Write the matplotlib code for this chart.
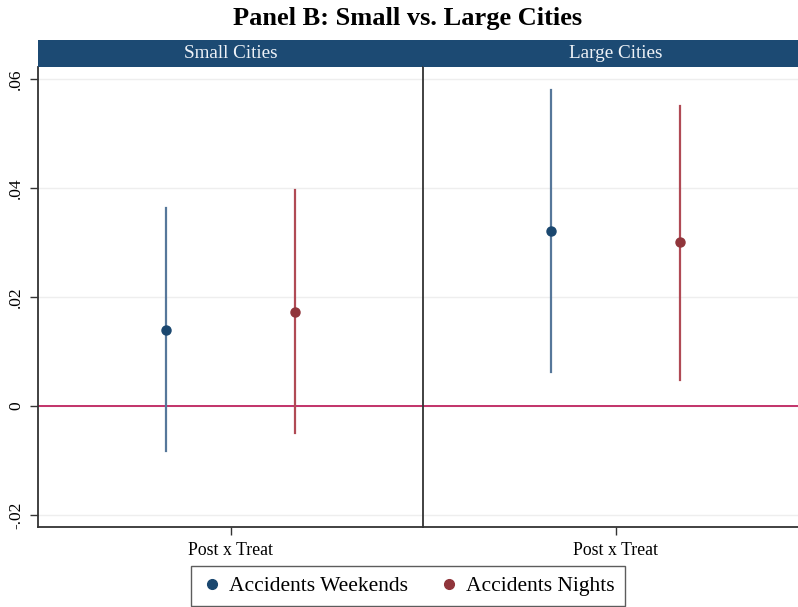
import matplotlib
matplotlib.use("Agg")
import matplotlib.pyplot as plt
from matplotlib.lines import Line2D

# Estimates by city size
panels = ["Small Cities", "Large Cities"]
series = ["Accidents Weekends", "Accidents Nights"]
coef = {"Small Cities": [0.0139, 0.0173], "Large Cities": [0.0321, 0.0301]}
ci_low = {"Small Cities": [-0.0083, -0.0050], "Large Cities": [0.0062, 0.0048]}
ci_high = {"Small Cities": [0.0363, 0.0396], "Large Cities": [0.0580, 0.0550]}
y_ticks = [-0.02, 0, 0.02, 0.04, 0.06]
y_tick_labels = ["-.02", "0", ".02", ".04", ".06"]
x_label = "Post x Treat"

dot_colors = ["#1a476f", "#90353b"]
line_colors = ["#56779a", "#b04a55"]
serif = ["Liberation Serif", "DejaVu Serif"]

fig = plt.figure(figsize=(7.98, 6.07), dpi=100)
fig.patch.set_facecolor("white")

W, H = 798, 607
def frac(x0, y0, x1, y1):
    return [x0 / W, 1 - y1 / H, (x1 - x0) / W, (y1 - y0) / H]

panel_px = [(38, 423), (423, 808)]
plot_top, plot_bot, strip_top = 67, 527, 40
offsets = [1 / 3, 2 / 3]

for i, (name, (x0, x1)) in enumerate(zip(panels, panel_px)):
    ax = fig.add_axes(frac(x0, plot_top, x1, plot_bot))
    ax.set_xlim(0, 1)
    ax.set_ylim(-0.0222, 0.0622)
    for t in y_ticks:
        ax.axhline(t, color="#eeeeee", lw=1.0, zorder=0)
    ax.axhline(0, color="#c2326a", lw=1.4, zorder=1)
    for k in range(2):
        xp = offsets[k]
        ax.plot([xp, xp], [ci_low[name][k], ci_high[name][k]],
                color=line_colors[k], lw=1.6, zorder=2)
        ax.plot(xp, coef[name][k], "o", color=dot_colors[k], ms=6.5, zorder=3)
    ax.set_xticks([0.5])
    ax.set_xticklabels([x_label], fontfamily=serif, fontsize=12.8)
    ax.tick_params(axis="x", length=6, width=1, color="#333333", pad=5)
    for s in ["top", "right"]:
        ax.spines[s].set_visible(False)
    ax.spines["bottom"].set_color("#333333")
    ax.spines["bottom"].set_linewidth(1.3)
    ax.spines["left"].set_color("#333333")
    ax.spines["left"].set_linewidth(1.3)
    ax.set_yticks(y_ticks)
    if i == 0:
        ax.set_yticklabels(y_tick_labels, rotation=90, va="center",
                           fontfamily=serif, fontsize=12.5)
        ax.tick_params(axis="y", length=6, width=1, color="#333333", pad=4)
    else:
        ax.tick_params(axis="y", length=0, labelleft=False)

    sax = fig.add_axes(frac(x0, strip_top, x1, plot_top))
    sax.set_facecolor("#1c4a73")
    sax.set_xticks([])
    sax.set_yticks([])
    for s in sax.spines.values():
        s.set_visible(False)
    sax.text((615.5 - x0) / (x1 - x0) if i else 0.5, 0.5, name, ha="center",
             va="center", color="#eef2f7", fontfamily=serif, fontsize=13.8,
             transform=sax.transAxes)

fig.text(408 / W, 1 - 18 / H, "Panel B: Small vs. Large Cities", ha="center",
         va="center", fontfamily=serif, fontsize=19, fontweight="bold")

handles = [Line2D([], [], marker="o", ls="none", color=c, ms=7) for c in dot_colors]
leg = fig.legend(handles, series, loc="center", bbox_to_anchor=(408 / W, 1 - 586 / H),
                 ncol=2, frameon=True, fancybox=False, prop={"family": serif, "size": 15.5},
                 handletextpad=0.3, columnspacing=1.4, borderpad=0.45, handlelength=1.0)
leg.get_frame().set_edgecolor("#333333")
leg.get_frame().set_linewidth(1.0)

fig.savefig("out.png", dpi=100, facecolor="white")
